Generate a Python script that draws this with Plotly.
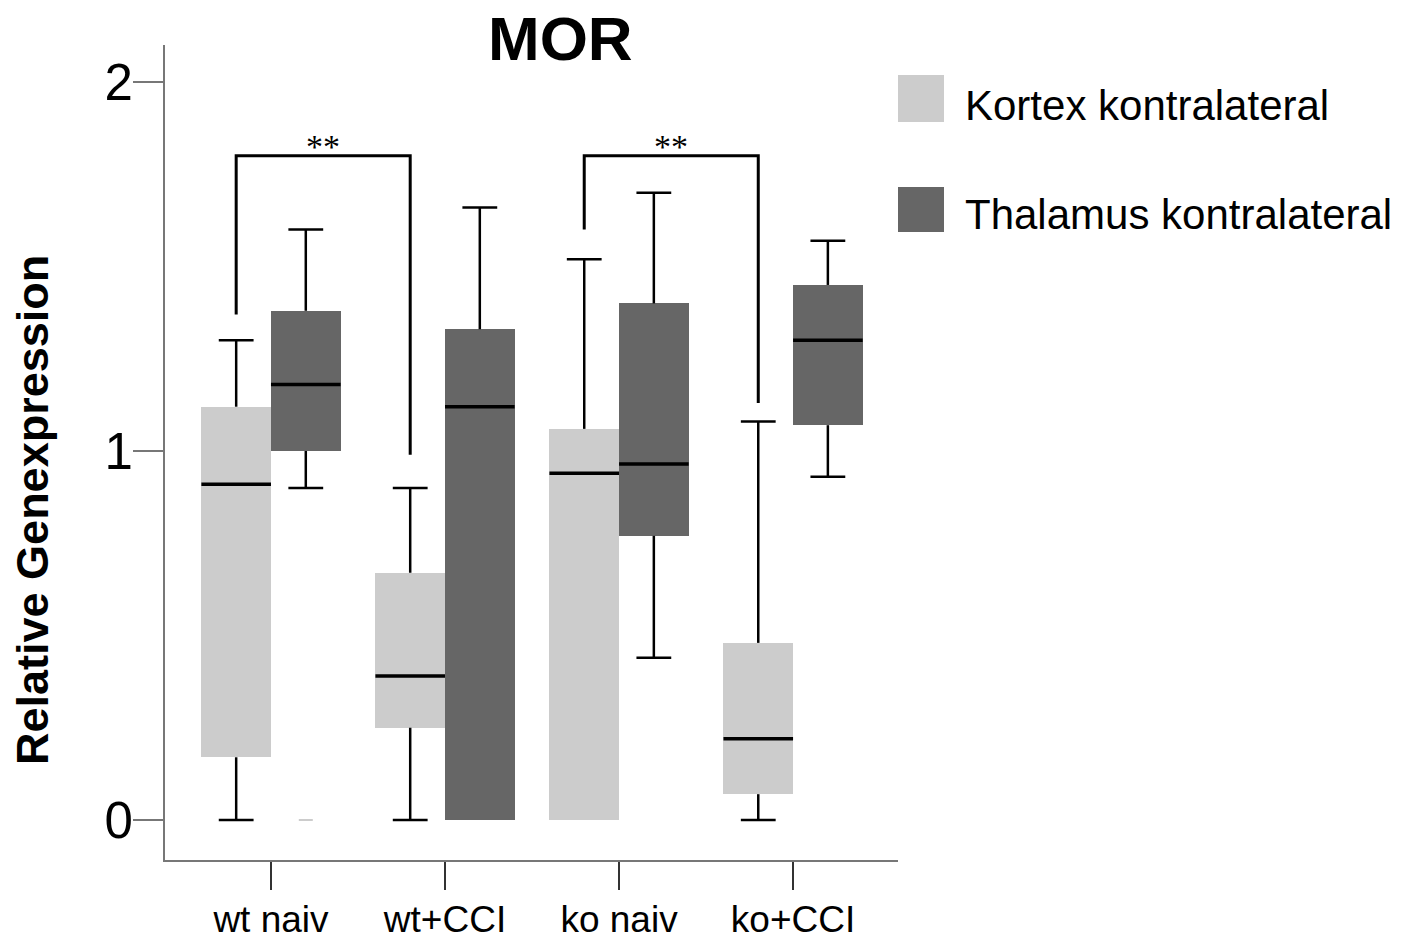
import plotly.graph_objects as go

# Groups and box statistics (relative gene expression of MOR)
groups = ["wt naiv", "wt+CCI", "ko naiv", "ko+CCI"]

kortex_low = [0.0, 0.0, 0.0, 0.0]
kortex_q1 = [0.17, 0.25, 0.0, 0.07]
kortex_median = [0.91, 0.39, 0.94, 0.22]
kortex_q3 = [1.12, 0.67, 1.06, 0.48]
kortex_high = [1.30, 0.90, 1.52, 1.08]

thal_low = [0.90, 0.0, 0.44, 0.93]
thal_q1 = [1.00, 0.0, 0.77, 1.07]
thal_median = [1.18, 1.12, 0.965, 1.30]
thal_q3 = [1.38, 1.33, 1.40, 1.45]
thal_high = [1.60, 1.66, 1.70, 1.57]

# stray value drawn as a small dash
thal_extra_group = [0]
thal_extra_value = [0.0]

# significance brackets (group index of each end, heights)
bracket_from = [0, 2]
bracket_to = [1, 3]
bracket_top = [1.80, 1.80]
bracket_left_end = [1.37, 1.60]
bracket_right_end = [0.99, 1.13]
bracket_label = ["**", "**"]

series_names = ["Kortex kontralateral", "Thalamus kontralateral"]
series_colors = ["#cccccc", "#666666"]

# layout geometry
W, H = 1402, 947
ML, MR, MT, MB = 165, 504, 45, 87
BOX_W = 0.4
CAP_HALF = 0.1
X_RANGE = [0.391, 4.603]
Y_RANGE = [-0.1084, 2.1003]
FONT = "Liberation Sans, Arial, Helvetica, sans-serif"

pos = [i + 1 for i in range(len(groups))]
offsets = [-BOX_W / 2, BOX_W / 2]

fig = go.Figure()

stats = [
    (kortex_low, kortex_q1, kortex_median, kortex_q3, kortex_high),
    (thal_low, thal_q1, thal_median, thal_q3, thal_high),
]

for s, (low, q1, med, q3, high) in enumerate(stats):
    xs = [p + offsets[s] for p in pos]
    # box bodies
    fig.add_trace(go.Bar(
        x=xs, base=q1, y=[b - a for a, b in zip(q1, q3)], width=BOX_W,
        marker=dict(color=series_colors[s], line=dict(width=0)),
        showlegend=False, hoverinfo="skip",
    ))
    # whiskers with caps
    wx, wy = [], []
    for x, lo, a, b, hi in zip(xs, low, q1, q3, high):
        if hi > b:
            wx += [x, x, None, x - CAP_HALF, x + CAP_HALF, None]
            wy += [b, hi, None, hi, hi, None]
        if lo < a:
            wx += [x, x, None, x - CAP_HALF, x + CAP_HALF, None]
            wy += [a, lo, None, lo, lo, None]
    fig.add_trace(go.Scatter(x=wx, y=wy, mode="lines",
                             line=dict(color="black", width=2.5),
                             showlegend=False, hoverinfo="skip"))
    # medians
    mx, my = [], []
    for x, m in zip(xs, med):
        mx += [x - BOX_W / 2, x + BOX_W / 2, None]
        my += [m, m, None]
    fig.add_trace(go.Scatter(x=mx, y=my, mode="lines",
                             line=dict(color="black", width=3.5),
                             showlegend=False, hoverinfo="skip"))

fig.add_trace(go.Scatter(
    x=[pos[g] + offsets[1] for g in thal_extra_group], y=thal_extra_value,
    mode="markers", marker=dict(symbol="line-ew", size=10,
                                line=dict(color="#cccccc", width=2)),
    showlegend=False, hoverinfo="skip"))

# significance brackets
for a, b, top, le, re, lab in zip(bracket_from, bracket_to, bracket_top,
                                  bracket_left_end, bracket_right_end, bracket_label):
    xl = pos[a] + offsets[0]
    xr = pos[b] + offsets[0]
    fig.add_trace(go.Scatter(
        x=[xl, xl, xr, xr], y=[le, top, top, re], mode="lines",
        line=dict(color="black", width=3),
        showlegend=False, hoverinfo="skip"))
    fig.add_annotation(
        x=(xl + xr) / 2, y=top - 0.03, text=lab, showarrow=False,
        yanchor="bottom", xanchor="center",
        font=dict(family="Liberation Serif, Times New Roman, serif",
                  size=34, color="black"))


def px_x(p):
    return (p - ML) / (W - ML - MR)


def px_y(p):
    return (H - MB - p) / (H - MT - MB)


# legend swatches and labels
legend_rows = [(75, 122, 105), (187, 232, 214)]
for (top, bot, mid), name, col in zip(legend_rows, series_names, series_colors):
    fig.add_shape(type="rect", xref="paper", yref="paper",
                  x0=px_x(898), x1=px_x(944), y0=px_y(bot), y1=px_y(top),
                  fillcolor=col, line=dict(width=0))
    fig.add_annotation(xref="paper", yref="paper", x=px_x(963), y=px_y(mid),
                       text=name, showarrow=False, xanchor="left",
                       yanchor="middle",
                       font=dict(family=FONT, size=42, color="black"))

# title
fig.add_annotation(xref="paper", yref="paper", x=px_x(560), y=px_y(38),
                   text="<b>MOR</b>", showarrow=False, xanchor="center",
                   yanchor="middle", font=dict(family=FONT, size=62, color="black"))

# y-axis title
fig.add_annotation(xref="paper", yref="paper", x=px_x(32), y=px_y(510),
                   text="<b>Relative Genexpression</b>", showarrow=False,
                   textangle=-90, xanchor="center", yanchor="middle",
                   font=dict(family=FONT, size=45, color="black"))

fig.update_layout(
    width=W, height=H, autosize=False,
    margin=dict(l=ML, r=MR, t=MT, b=MB, pad=0, autoexpand=False),
    paper_bgcolor="white", plot_bgcolor="white",
    barmode="overlay", bargap=0,
    font=dict(family=FONT, color="black"),
    showlegend=False,
)

fig.update_xaxes(
    range=X_RANGE, tickmode="array", tickvals=pos, ticktext=groups,
    showline=True, linecolor="#777777", linewidth=2, mirror=False,
    ticks="outside", ticklen=28, tickwidth=2, tickcolor="#333333",
    showgrid=False, zeroline=False, ticklabelstandoff=-2, automargin=False,
    tickfont=dict(family=FONT, size=37, color="black"),
)
fig.update_yaxes(
    range=Y_RANGE, tickmode="array", tickvals=[0, 1, 2], ticktext=["0", "1", "2"],
    showline=True, linecolor="#777777", linewidth=2,
    ticks="outside", ticklen=30, tickwidth=2, tickcolor="#777777",
    showgrid=False, zeroline=False, ticklabelstandoff=-10, automargin=False,
    tickfont=dict(family=FONT, size=51, color="black"),
)

fig.write_html("out.html")
